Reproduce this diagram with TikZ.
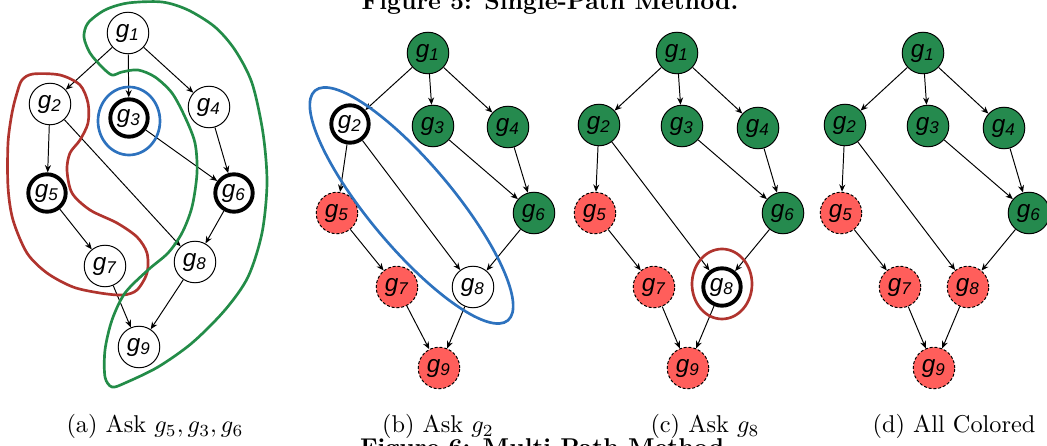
\documentclass[tikz,border=0pt]{standalone}
\usepackage{amsmath,amssymb}
\usepackage{fontspec}
\setsansfont{Liberation Sans}
\usepackage{xcolor}
\usepackage{tikz}
\usetikzlibrary{arrows.meta, positioning, calc}

\definecolor{ngreen}{RGB}{37,138,78}
\definecolor{nred}{RGB}{255,94,91}
\definecolor{lblue}{RGB}{45,114,190}
\definecolor{lred}{RGB}{176,52,46}
\definecolor{lgreen}{RGB}{35,140,72}

\begin{document}
\begin{tikzpicture}[
    x=0.4115pt, y=-0.4115pt,
    gnode/.style={circle, draw=black, line width=0.4pt, fill=white, minimum size=17.1pt, inner sep=0pt, font=\sffamily\itshape},
    asked/.style={gnode, line width=1.6pt, minimum size=15.4pt},
    good/.style={gnode, fill=ngreen},
    bad/.style={gnode, fill=nred, dash pattern=on 1.2pt off 0.8pt},
    arrow/.style={-{Stealth[length=3pt, width=2.5pt]}, line width=0.4pt},
    hlblue/.style={draw=lblue, line width=1.1pt},
    hlred/.style={draw=lred, line width=1.1pt},
    hlgreen/.style={draw=lgreen, line width=1.1pt},
    captext/.style={anchor=base}
]
\useasboundingbox (0,0) rectangle (1047,446);
\clip (0,0) rectangle (1047,446);

% (a) Ask g5, g3, g6
\node[gnode] (a1) at (128,33) {g\textsubscript{1}};
\node[gnode] (a2) at (50,104) {g\textsubscript{2}};
\node[asked] (a3) at (129,118) {g\textsubscript{3}};
\node[gnode] (a4) at (209,107) {g\textsubscript{4}};
\node[asked] (a5) at (47,193) {g\textsubscript{5}};
\node[asked] (a6) at (234,193) {g\textsubscript{6}};
\node[gnode] (a7) at (105,266) {g\textsubscript{7}};
\node[gnode] (a8) at (195,262) {g\textsubscript{8}};
\node[gnode] (a9) at (139,347) {g\textsubscript{9}};

% (b) Ask g2
\node[good] (b1) at (428,53) {g\textsubscript{1}};
\node[asked] (b2) at (350,124) {g\textsubscript{2}};
\node[good] (b3) at (433,126) {g\textsubscript{3}};
\node[good] (b4) at (508,127) {g\textsubscript{4}};
\node[bad] (b5) at (337,213) {g\textsubscript{5}};
\node[good] (b6) at (534,213) {g\textsubscript{6}};
\node[bad] (b7) at (397,287) {g\textsubscript{7}};
\node[gnode] (b8) at (473,287) {g\textsubscript{8}};
\node[bad] (b9) at (439,368) {g\textsubscript{9}};

% (c) Ask g8
\node[good] (c1) at (677,53) {g\textsubscript{1}};
\node[good] (c2) at (599,125) {g\textsubscript{2}};
\node[good] (c3) at (682,126) {g\textsubscript{3}};
\node[good] (c4) at (758,128) {g\textsubscript{4}};
\node[bad] (c5) at (595,213) {g\textsubscript{5}};
\node[good] (c6) at (783,213) {g\textsubscript{6}};
\node[bad] (c7) at (654,287) {g\textsubscript{7}};
\node[asked] (c8) at (722,287) {g\textsubscript{8}};
\node[bad] (c9) at (688,368) {g\textsubscript{9}};

% (d) All Colored
\node[good] (d1) at (923,53) {g\textsubscript{1}};
\node[good] (d2) at (845,125) {g\textsubscript{2}};
\node[good] (d3) at (928,126) {g\textsubscript{3}};
\node[good] (d4) at (1004,128) {g\textsubscript{4}};
\node[bad] (d5) at (841,213) {g\textsubscript{5}};
\node[good] (d6) at (1029,213) {g\textsubscript{6}};
\node[bad] (d7) at (900,287) {g\textsubscript{7}};
\node[bad] (d8) at (968,287) {g\textsubscript{8}};
\node[bad] (d9) at (934,368) {g\textsubscript{9}};

% same edges in every panel
\foreach \p in {a,b,c,d}
  \foreach \s/\t in {1/2, 1/3, 1/4, 2/5, 2/8, 3/6, 4/6, 5/7, 6/8, 7/9, 8/9}
    \draw[arrow] (\p\s) -- (\p\t);

% highlighted groups
\draw[hlblue] ($(a3)+(0,3)$) ellipse [x radius=31, y radius=34];
\draw[hlred] plot[smooth cycle] coordinates {(22,80) (33,74) (60,75) (80,85) (88,103) (88,123) (80,140) (70,153) (67,170) (72,193) (90,210) (117,223) (137,237) (147,253) (147,273) (137,290) (123,295) (100,293) (73,287) (47,273) (27,253) (13,220) (8,187) (8,143) (12,113) (17,93)};
\draw[hlgreen] plot[smooth cycle] coordinates {(88,23) (105,10) (128,3) (162,2) (188,10) (215,27) (235,50) (252,83) (263,133) (267,183) (262,233) (248,277) (225,310) (192,343) (158,367) (125,383) (112,387) (105,377) (105,350) (112,320) (125,293) (148,270) (168,253) (182,233) (192,207) (197,173) (195,143) (185,117) (172,93) (155,77) (138,70) (122,72) (112,75) (102,67) (90,53) (84,37)};
\draw[hlblue, rotate around={-50:($(b2)!0.5!(b8)$)}] ($(b2)!0.5!(b8)$) ellipse [x radius=150, y radius=42];
\draw[hlred] ($(c8)+(0,-3)$) ellipse [x radius=30, y radius=35];

% captions
\node[captext] (capa) at (155,433) {(a) Ask $g_5, g_3, g_6$};
\node[captext] (capb) at (438,433) {(b) Ask $g_2$};
\node[captext] (capc) at (705,433) {(c) Ask $g_8$};
\node[captext] (capd) at (954,433) {(d) All Colored};
\node[captext, font=\bfseries] (figtop) at (550,9.5) {Figure 5: Single-Path Method.};
\node[captext, font=\bfseries] (figbot) at (546,456) {Figure 6: Multi-Path Method.};

\end{tikzpicture}
\end{document}
